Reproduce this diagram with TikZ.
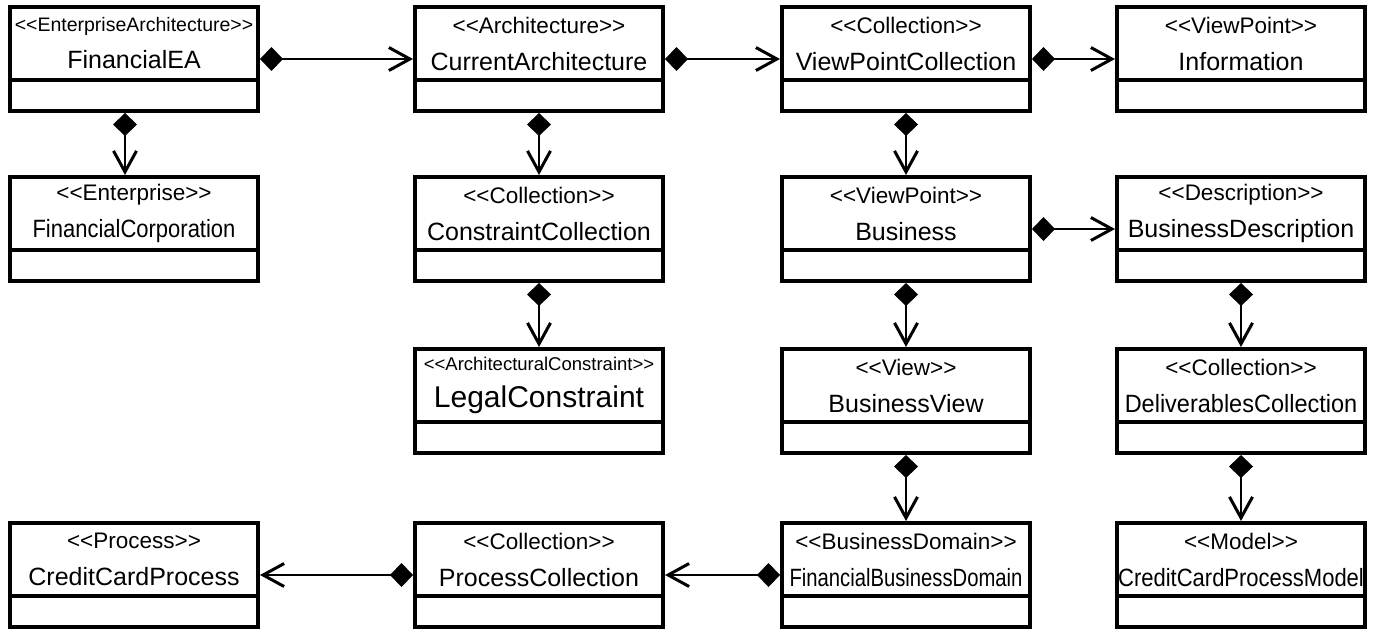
\documentclass[tikz,border=0pt]{standalone}
\usepackage{fontspec}
\setmainfont{Liberation Sans}
\usepackage{graphicx}
\usepackage{tikz}
\usetikzlibrary{arrows.meta,shapes.multipart}

\newcommand\stereo[1]{<\kern0pt<#1>\kern0pt>}
\newcommand\stfont{\fontsize{11.25pt}{18.5pt}\selectfont}
\newcommand\nmfont{\fontsize{12.5pt}{18.5pt}\selectfont}
\newcommand\umltext[2]{\parbox[c][34.5pt][c]{124pt}{\centering\stfont #1\\\nmfont #2}}

\begin{document}
\begin{tikzpicture}[
  x=0.5pt,y=0.5pt,
  umlbox/.style={rectangle split,rectangle split parts=2,draw,line width=2pt,
                 inner sep=0pt,anchor=north west,
                 rectangle split empty part height=13.5pt,
                 rectangle split empty part depth=0pt},
  comp/.style={{Diamond[length=11.5pt,width=12pt]}-{Straight Barb[length=10.5pt,width=11.5pt,line width=1.5pt]},
               line width=0.6pt}
]
\useasboundingbox (0,0) rectangle (1379,-632);

% ---- linha 1
\node[umlbox] (fea)  at (8,-5)    {\umltext{{\fontsize{9.75pt}{18.5pt}\selectfont\stereo{EnterpriseArchitecture}}}{FinancialEA}};
\node[umlbox] (cur)  at (413,-5)  {\umltext{\stereo{Architecture}}{CurrentArchitecture}};
\node[umlbox] (vpc)  at (780,-5)  {\umltext{\stereo{Collection}}{ViewPointCollection}};
\node[umlbox] (inf)  at (1115,-5) {\umltext{\stereo{ViewPoint}}{Information}};

% ---- linha 2
\node[umlbox] (fcorp) at (8,-175)    {\umltext{\stereo{Enterprise}}{\scalebox{0.88}[1]{FinancialCorporation}}};
\node[umlbox] (ccol)  at (413,-175)  {\umltext{\stereo{Collection}}{ConstraintCollection}};
\node[umlbox] (bus)   at (780,-175)  {\umltext{\stereo{ViewPoint}}{Business}};
\node[umlbox] (bdesc) at (1115,-175) {\umltext{\stereo{Description}}{BusinessDescription}};

% ---- linha 3
\node[umlbox] (legal) at (413,-347)  {\umltext{{\fontsize{9.25pt}{18.5pt}\selectfont\stereo{ArchitecturalConstraint}}}{\fontsize{15pt}{18.5pt}\selectfont LegalConstraint}};
\node[umlbox] (bview) at (780,-347)  {\umltext{\stereo{View}}{BusinessView}};
\node[umlbox] (dcol)  at (1115,-347) {\umltext{\stereo{Collection}}{\scalebox{0.94}[1]{DeliverablesCollection}}};

% ---- linha 4
\node[umlbox] (ccp)  at (8,-521)    {\umltext{\stereo{Process}}{CreditCardProcess}};
\node[umlbox] (pcol) at (413,-521)  {\umltext{\stereo{Collection}}{ProcessCollection}};
\node[umlbox] (fbd)  at (780,-521)  {\umltext{\stereo{BusinessDomain}}{\scalebox{0.81}[1]{FinancialBusinessDomain}}};
\node[umlbox] (ccpm) at (1115,-521) {\umltext{\stereo{Model}}{\scalebox{0.88}[1]{CreditCardProcessModel}}};

% ---- composicoes horizontais
\draw[comp] (fea.east) -- (cur.west);
\draw[comp] (cur.east) -- (vpc.west);
\draw[comp] (vpc.east) -- (inf.west);
\draw[comp] (bus.east) -- (bdesc.west);
\draw[comp] (fbd.west) -- (pcol.east);
\draw[comp] (pcol.west) -- (ccp.east);

% ---- composicoes verticais
\draw[comp] ([xshift=-4.5pt]fea.south) -- ([xshift=-4.5pt]fcorp.north);
\draw[comp] (cur.south) -- (ccol.north);
\draw[comp] (ccol.south) -- (legal.north);
\draw[comp] (vpc.south) -- (bus.north);
\draw[comp] (bus.south) -- (bview.north);
\draw[comp] (bview.south) -- (fbd.north);
\draw[comp] (bdesc.south) -- (dcol.north);
\draw[comp] (dcol.south) -- (ccpm.north);
\end{tikzpicture}
\end{document}
